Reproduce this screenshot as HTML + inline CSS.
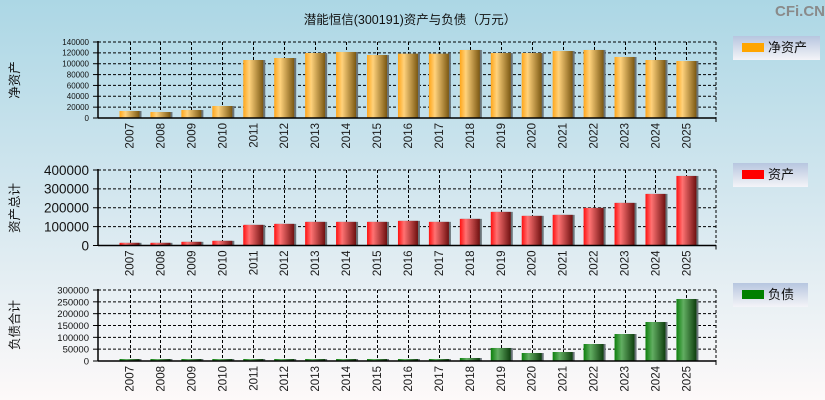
<!DOCTYPE html>
<html><head><meta charset="utf-8">
<style>
html,body{margin:0;padding:0;}
body{width:825px;height:400px;overflow:hidden;}
svg{display:block;}
text{font-family:"Liberation Sans","Noto Sans CJK SC",sans-serif;}
</style></head>
<body>
<svg id="c" width="825" height="400" xmlns="http://www.w3.org/2000/svg">
<defs>
<linearGradient id="bg" x1="0" y1="0" x2="0" y2="1">
<stop offset="0" stop-color="#acd7e5"/>
<stop offset="0.5" stop-color="#d4e7ef"/>
<stop offset="1" stop-color="#fdf9f9"/>
</linearGradient>
<linearGradient id="lg" x1="0" y1="0" x2="0" y2="1">
<stop offset="0" stop-color="#b7c6df"/>
<stop offset="1" stop-color="#f4f4f8"/>
</linearGradient>
<linearGradient id="go" x1="0" y1="0" x2="1" y2="0">
<stop offset="0" stop-color="#ffa61a"/>
<stop offset="0.3" stop-color="#ffd27c"/>
<stop offset="1" stop-color="#7b5812"/>
</linearGradient>
<linearGradient id="gr" x1="0" y1="0" x2="1" y2="0">
<stop offset="0" stop-color="#ff1010"/>
<stop offset="0.3" stop-color="#ff7272"/>
<stop offset="1" stop-color="#6e1010"/>
</linearGradient>
<linearGradient id="gg" x1="0" y1="0" x2="1" y2="0">
<stop offset="0" stop-color="#0c800c"/>
<stop offset="0.35" stop-color="#62ae62"/>
<stop offset="1" stop-color="#0e3e0e"/>
</linearGradient>
</defs>
<rect x="0" y="0" width="825" height="400" fill="url(#bg)"/>
<text x="410" y="24" font-size="12.5" text-anchor="middle" fill="#111">潜能恒信(300191)资产与负债（万元）</text>
<text x="800" y="16" font-size="15" font-weight="bold" text-anchor="middle" fill="#8a8a8a">CFi.CN</text>
<g id="g"></g>
</svg>
<script>
var g=document.getElementById('g');var ns="http://www.w3.org/2000/svg";
function el(t,a,txt){var e=document.createElementNS(ns,t);for(var k in a)e.setAttribute(k,a[k]);if(txt!==undefined)e.textContent=txt;g.appendChild(e);return e;}
var years=[];for(var y=2007;y<=2025;y++)years.push(y);
var L=98,R=716;
function cx(i){return 129.5+30.94*i;}
function chart(o){
  var y0=o.y0,yt=o.yt,n=o.n,step=(y0-yt)/n;
  for(var k=1;k<=n;k++){var yy=y0-step*k;el('line',{x1:L,y1:yy,x2:R,y2:yy,stroke:'#000','stroke-width':1,'stroke-dasharray':'3,2'});}
  for(var i=0;i<19;i++){var x=Math.round(cx(i))+0.5;el('line',{x1:x,y1:yt,x2:x,y2:y0,stroke:'#000','stroke-width':1,'stroke-dasharray':'3,2'});}
  el('line',{x1:R,y1:yt,x2:R,y2:y0,stroke:'#000','stroke-width':1,'stroke-dasharray':'3,2'});
  for(var i=0;i<19;i++){var v=o.vals[i];var h=v/o.max*(y0-yt);if(h<2)h=2;var x=cx(i)-10;
    el('rect',{x:x+1,y:y0-h,width:21,height:h,fill:'#6a7479'});
    el('rect',{x:x,y:y0-h,width:20,height:h,fill:o.fill});}
  el('line',{x1:L,y1:yt-1,x2:L,y2:y0,stroke:'#000','stroke-width':1.5});
  el('line',{x1:L,y1:y0,x2:R,y2:y0,stroke:'#000','stroke-width':1.5});
  el('line',{x1:R,y1:y0,x2:R,y2:y0+4,stroke:'#000','stroke-width':1});
  for(var k=0;k<=n;k++){var yy=y0-step*k;
    el('line',{x1:L-5,y1:yy,x2:L,y2:yy,stroke:'#000','stroke-width':1});
    el('text',{x:89,y:yy+o.fs*0.36,'font-size':o.fs,'text-anchor':'end',fill:'#111'},String(o.max/n*k));}
  for(var i=0;i<19;i++){var x=cx(i)+4;var ty=y0+5;
    el('text',{x:0,y:0,'font-size':11.5,'text-anchor':'end',fill:'#1a1a1a',transform:'translate('+x+','+ty+') rotate(-90)'},String(years[i]));}
  el('text',{x:0,y:0,'font-size':12.5,'text-anchor':'middle',fill:'#111',transform:'translate('+19+','+o.tc+') rotate(-90)'},o.title);
  el('rect',{x:733,y:o.ly,width:o.lw,height:24,fill:'url(#lg)'});
  el('rect',{x:742,y:o.ly+7,width:22,height:9,fill:o.lc});
  el('text',{x:768,y:o.ly+16,'font-size':13,fill:'#111'},o.lt);
}
chart({y0:118,yt:42,n:7,max:140000,fs:8,fill:'url(#go)',title:'净资产',tc:80,ly:36,lw:87,lc:'#ffa500',lt:'净资产',
 vals:[12900,11000,14700,22100,106800,110500,119700,121600,116000,118500,118500,125300,119700,119700,123400,125300,112400,106800,105000]});
chart({y0:245.5,yt:170,n:4,max:400000,fs:13.5,fill:'url(#gr)',title:'资产总计',tc:208,ly:163,lw:75,lc:'#ff0000',lt:'资产',
 vals:[14100,14100,19400,24700,109300,114600,125200,125200,125200,130500,125200,141100,178100,157000,162300,199300,225800,273300,368500]});
chart({y0:361,yt:290,n:6,max:300000,fs:9.5,fill:'url(#gg)',title:'负债合计',tc:325,ly:283,lw:75,lc:'#008000',lt:'负债',
 vals:[3000,3000,3000,3000,3000,3000,3000,3000,8000,8000,8000,12700,55000,33800,38000,71800,114000,164800,262000]});
</script>
</body></html>
